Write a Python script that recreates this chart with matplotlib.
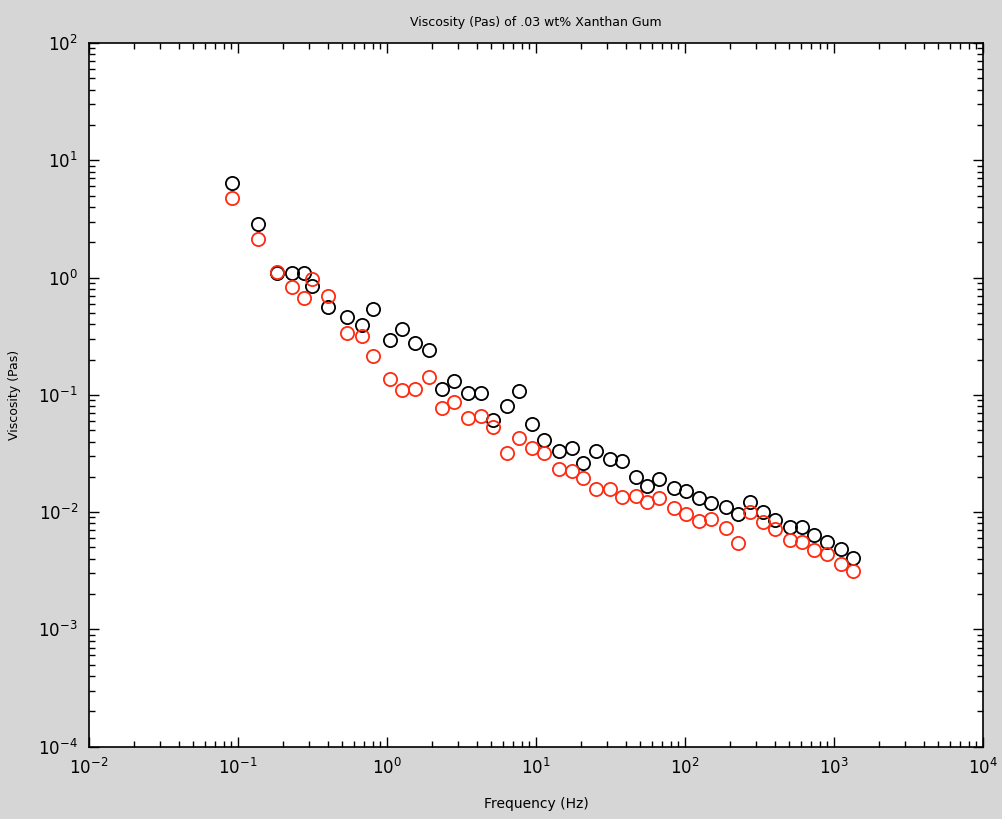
import numpy as np
import matplotlib
matplotlib.use('Agg')
import matplotlib.pyplot as plt

# Frequency (Hz) shared by both series
freq = [0.0907, 0.137, 0.182, 0.229, 0.279, 0.315, 0.404, 0.536, 0.676, 0.809,
        1.048, 1.267, 1.54, 1.92, 2.33, 2.82, 3.51, 4.26, 5.17, 6.42,
        7.73, 9.45, 11.4, 14.2, 17.4, 20.8, 25.2, 31.4, 37.9, 46.7,
        55.8, 67.2, 84.8, 102, 124, 149, 188, 227, 273, 332,
        402, 507, 613, 734, 901, 1114, 1346]

# Viscosity (Pas), black series
visc_black = [6.37, 2.85, 1.09, 1.09, 1.09, 0.853, 0.565, 0.464, 0.394, 0.540,
              0.294, 0.362, 0.275, 0.241, 0.1116, 0.132, 0.103, 0.103, 0.0611, 0.0809,
              0.108, 0.0568, 0.0410, 0.0333, 0.0351, 0.0261, 0.0334, 0.0284, 0.0275, 0.0199,
              0.0168, 0.0191, 0.0161, 0.0150, 0.0133, 0.0119, 0.0111, 0.0096, 0.0121, 0.0101,
              0.00858, 0.00752, 0.00752, 0.00640, 0.00554, 0.00483, 0.00409]

# Viscosity (Pas), red series
visc_red = [4.80, 2.12, 1.12, 0.836, 0.666, 0.967, 0.697, 0.335, 0.320, 0.215,
            0.1375, 0.110, 0.1116, 0.143, 0.0778, 0.0875, 0.0639, 0.0665, 0.0535, 0.0322,
            0.0427, 0.0351, 0.0318, 0.0233, 0.0225, 0.0197, 0.0157, 0.0157, 0.0134, 0.0137,
            0.0121, 0.0133, 0.0109, 0.00966, 0.00846, 0.00875, 0.00729, 0.00543, 0.0101, 0.00830,
            0.00719, 0.00579, 0.00560, 0.00476, 0.00440, 0.00360, 0.00317]

fig = plt.figure(figsize=(10.03, 8.19), dpi=100, facecolor='#d6d6d6')
ax = fig.add_axes([0.0887, 0.0883, 0.8913, 0.8592])
ax.set_facecolor('white')

ax.plot(freq, visc_black, 'o', mfc='none', mec='black', ms=9.5, mew=1.3)
ax.plot(freq, visc_red, 'o', mfc='none', mec='#ff2a10', ms=9.5, mew=1.3)

ax.set_xscale('log')
ax.set_yscale('log')
ax.set_xlim(1e-2, 1e4)
ax.set_ylim(1e-4, 1e2)

ax.tick_params(which='both', direction='in', top=True, right=True, labelsize=12)
ax.tick_params(which='major', length=7, width=1, pad=8)
ax.tick_params(which='minor', length=4, width=1)
for s in ax.spines.values():
    s.set_linewidth(1.2)

ax.set_title('Viscosity (Pas) of .03 wt% Xanthan Gum', fontsize=9, pad=12)
ax.set_xlabel('Frequency (Hz)', fontsize=10, labelpad=14)
ax.set_ylabel('Viscosity (Pas)', fontsize=9, labelpad=12)

fig.savefig('out.png', dpi=100, facecolor=fig.get_facecolor())
